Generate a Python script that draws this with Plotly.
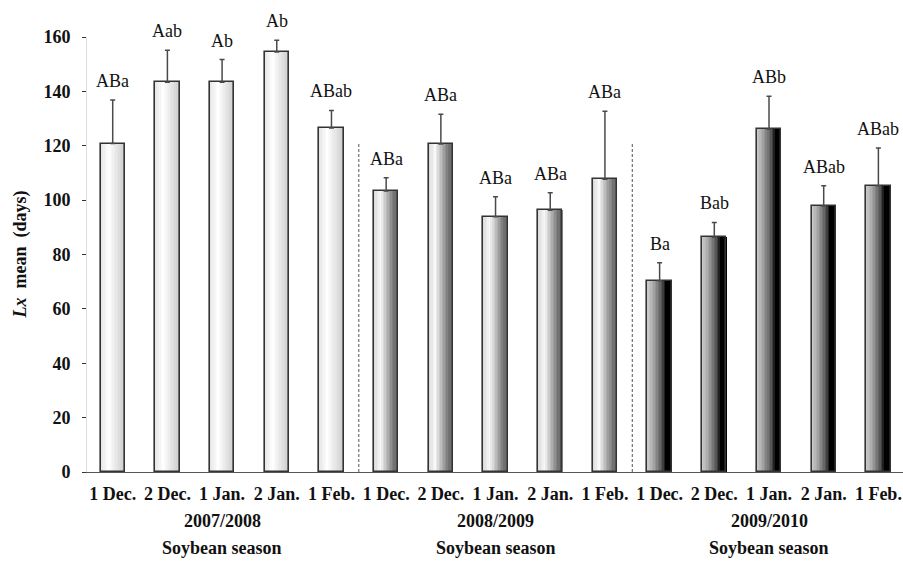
import plotly.graph_objects as go

# ---- data ----
dates = ["1 Dec.", "2 Dec.", "1 Jan.", "2 Jan.", "1 Feb."]
seasons = ["2007/2008", "2008/2009", "2009/2010"]
season_sub = "Soybean season"

lx_2007 = [120.8, 143.4, 143.4, 154.5, 126.5]
lx_2008 = [103.4, 120.6, 93.9, 96.3, 107.7]
lx_2009 = [70.3, 86.3, 126.1, 97.8, 105.3]

err_2007 = [16.0, 11.7, 8.3, 4.3, 6.5]
err_2008 = [4.8, 11.0, 7.3, 6.4, 25.0]
err_2009 = [6.7, 5.5, 12.1, 7.5, 13.9]

letters_2007 = ["ABa", "Aab", "Ab", "Ab", "ABab"]
letters_2008 = ["ABa", "ABa", "ABa", "ABa", "ABa"]
letters_2009 = ["Ba", "Bab", "ABb", "ABab", "ABab"]

y_ticks = [0, 20, 40, 60, 80, 100, 120, 140, 160]

# ---- assemble ----
values = lx_2007 + lx_2008 + lx_2009
errors = err_2007 + err_2008 + err_2009
letters = letters_2007 + letters_2008 + letters_2009
xpos = list(range(len(values)))
group_of = [0] * 5 + [1] * 5 + [2] * 5
ticktext = ["<b>%s</b>" % d for d in dates * 3]

FONT = "Liberation Serif"
BAR_W = 0.444
N_SLICES = 16

# gradient stops per season group (left -> right across the bar)
grad_stops = [
    [(0.0, (228, 228, 228)), (0.35, (255, 255, 255)), (1.0, (205, 205, 205))],
    [(0.0, (215, 215, 215)), (0.28, (248, 248, 248)), (0.88, (105, 105, 105)), (1.0, (135, 135, 135))],
    [(0.0, (205, 205, 205)), (0.25, (170, 170, 170)), (0.62, (80, 80, 80)), (0.78, (0, 0, 0)), (1.0, (0, 0, 0))],
]


def interp(stops, t):
    for (t0, c0), (t1, c1) in zip(stops[:-1], stops[1:]):
        if t0 <= t <= t1:
            f = 0 if t1 == t0 else (t - t0) / (t1 - t0)
            c = [round(a + (b - a) * f) for a, b in zip(c0, c1)]
            return "rgb(%d,%d,%d)" % tuple(c)
    c = stops[-1][1]
    return "rgb(%d,%d,%d)" % tuple(c)


fig = go.Figure()

sw = BAR_W / N_SLICES
for k in range(N_SLICES):
    t = (k + 0.5) / N_SLICES
    colors = [interp(grad_stops[g], t) for g in group_of]
    fig.add_trace(go.Bar(
        x=xpos, y=values, width=sw * 1.08, offset=-BAR_W / 2 + k * sw,
        marker=dict(color=colors, line=dict(width=0)),
        showlegend=False, hoverinfo="skip",
    ))

# outline + error bars
fig.add_trace(go.Bar(
    x=xpos, y=values, width=BAR_W,
    marker=dict(color="rgba(0,0,0,0)", line=dict(color="#333333", width=1.6)),
    error_y=dict(type="data", array=errors, symmetric=False, arrayminus=[0] * len(errors),
                 color="#4a4a4a", thickness=1.5, width=2.5),
    showlegend=False,
))

# letters above error bars
for x, v, e, s in zip(xpos, values, errors, letters):
    fig.add_annotation(x=x, y=v + e, text=s, showarrow=False, yanchor="bottom", yshift=7,
                       font=dict(family=FONT, size=18, color="#111"))

# season labels
for i, s in enumerate(seasons):
    cx = i * 5 + 2
    fig.add_annotation(x=cx, y=0, xref="x", yref="y", text="<b>%s</b>" % s, showarrow=False,
                       yanchor="middle", yshift=-49, font=dict(family=FONT, size=18, color="#111"))
    fig.add_annotation(x=cx, y=0, xref="x", yref="y", text="<b>%s</b>" % season_sub, showarrow=False,
                       yanchor="middle", yshift=-76, font=dict(family=FONT, size=18, color="#111"))

# separators
for xs in (4.5, 9.5):
    fig.add_shape(type="line", x0=xs, x1=xs, y0=0, y1=121.4, xref="x", yref="y",
                  line=dict(color="#555", width=1, dash="3px,2px"))

# y title
fig.add_annotation(xref="paper", yref="paper", x=-0.082, y=0.5, xanchor="center", yanchor="middle",
                   text="<b><i>Lx</i>  mean  (days)</b>", textangle=-90, showarrow=False,
                   font=dict(family=FONT, size=18, color="#111"))

fig.update_layout(
    width=903, height=562,
    margin=dict(l=87, r=0, t=37, b=90),
    paper_bgcolor="white", plot_bgcolor="white",
    barmode="overlay", bargap=0,
    font=dict(family=FONT, size=18, color="#111"),
    xaxis=dict(range=[-0.47, 14.45], tickvals=xpos, ticktext=ticktext, ticks="",
               showgrid=False, zeroline=False, showline=True, linecolor="#555", linewidth=1.2,
               ticklabelstandoff=5,
               tickfont=dict(family=FONT, size=18, color="#111")),
    yaxis=dict(range=[0, 160], tickvals=y_ticks, ticktext=["<b>%d</b>" % t for t in y_ticks],
               ticks="outside", ticklen=4, tickcolor="#333",
               showgrid=False, zeroline=False, showline=True, linecolor="#ddd", linewidth=1,
               ticklabelstandoff=8,
               tickfont=dict(family=FONT, size=18, color="#111")),
)

fig.write_html("out.html", config={"displayModeBar": False},
               post_script="document.body.style.margin='0';")
